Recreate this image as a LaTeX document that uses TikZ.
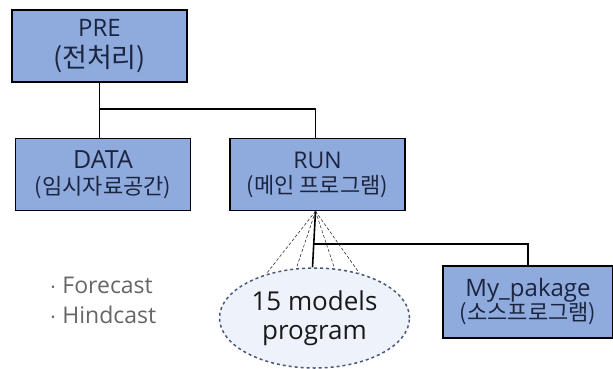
\documentclass[tikz,border=0pt]{standalone}
\usepackage{fontspec}
\setmainfont{Open Sans}
\newfontfamily\kofont{Noto Sans CJK KR}
\usetikzlibrary{shapes.geometric, positioning, calc}
\definecolor{boxblue}{HTML}{8FAADC}
\definecolor{boxtext}{HTML}{1C2540}
\definecolor{cloudfill}{HTML}{EEF3FB}
\definecolor{cloudline}{HTML}{4A5878}
\newcommand{\subline}[2][22]{{\kofont\fontsize{#1}{#1}\selectfont #2}}
\tikzset{
  box/.style={rectangle, draw=black, line width=1.5pt, fill=boxblue,
              minimum width=175pt, minimum height=72pt, inner sep=0pt,
              align=center, text=boxtext, font=\fontsize{22}{25}\selectfont},
  link/.style={line width=1.6pt, color=black},
  fan/.style={line width=0.6pt, dash pattern=on 3pt off 2pt, color=black!80},
  cloud/.style={ellipse, draw=cloudline, dashed, line width=1.5pt, fill=cloudfill,
                minimum width=190pt, minimum height=100pt, inner sep=0pt,
                align=center, text=black!90, font=\fontsize{26}{29}\selectfont},
  note/.style={align=left, text=black!60, font=\fontsize{23}{30}\selectfont},
}
\begin{document}
\begin{tikzpicture}[x=1pt, y=-1pt]
  \fill[white] (0,0) rectangle (613,368);
  \useasboundingbox (0,0) rectangle (613,368);

  % top and second row
  \node[box, font=\fontsize{24}{31}\selectfont] (pre) at (99.5,46)
    {PRE\\\subline[27]{(전처리)}};
  \node[box, font=\fontsize{25}{26}\selectfont, below=55pt of pre, xshift=3.5pt] (data)
    {DATA\\\subline{(임시자료공간)}};
  \node[box, font=\fontsize{23}{25}\selectfont, right=38pt of data] (run)
    {RUN\\\subline{(메인 프로그램)}};

  % bottom row
  \node[cloud, below=56pt of run, xshift=-3pt] (models) {15 models\\program};
  \node[box, font=\fontsize{24}{24}\selectfont, minimum width=170pt] (mypkg) at (528,302)
    {My\_pakage\\\subline{(소스프로그램)}};
  \node[note, anchor=west] (cases) at (46,300) {$\cdot$ Forecast\\$\cdot$ Hindcast};

  % tree links
  \coordinate (split) at ($(pre.south)+(0,26)$);
  \draw[link] (pre.south) -- (pre.south |- data.north);
  \draw[link] (split) -| ([xshift=-2pt]run.north);
  \coordinate (branch) at ($(run.south)!0.59!(models.north)$);
  \draw[link] ([xshift=-2pt]run.south) -- ([xshift=-2pt]models.north);
  \draw[link] ([xshift=-2pt]branch) -| (mypkg.north);

  % fan of model runs
  \foreach \ang in {138,110,68,45}
    \draw[fan] ([xshift=-2pt]run.south) -- (models.\ang);

\end{tikzpicture}
\end{document}
